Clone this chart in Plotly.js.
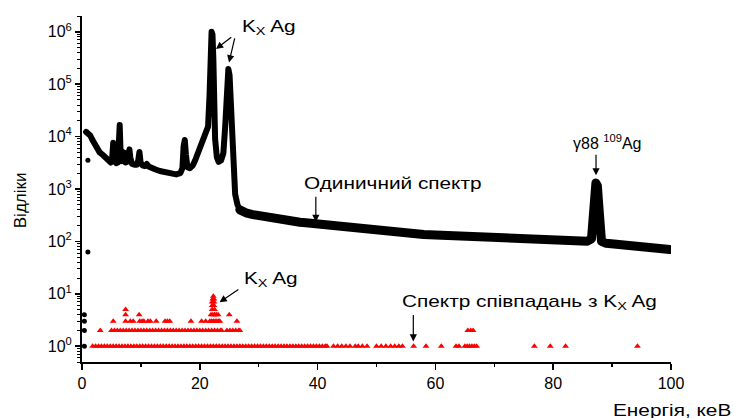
<!DOCTYPE html>
<html>
<head>
<meta charset="utf-8">
<script src="https://cdn.plot.ly/plotly-3.0.1.min.js"></script>
<style>
html,body{margin:0;padding:0;background:#fff;}
#chart{width:734px;height:418px;}
path.js-line{stroke-linejoin:round !important;stroke-linecap:round !important;}
</style>
</head>
<body>
<div id="chart"></div>
<script>
// ---- Single (non-coincidence) spectrum: energy (keV) and counts ----
const singleEnergy = [0.7,1.0,1.4,1.8,2.2,2.6,3.0,3.5,4.0,4.5,4.9,5.1,5.3,5.5,5.8,6.1,6.25,6.4,6.55,6.8,7.1,7.4,7.7,7.9,8.05,8.2,8.5,8.9,9.3,9.55,9.75,9.95,10.3,10.7,11.0,11.3,11.8,12.5,13.2,14.0,15.0,16.0,16.7,17.05,17.25,17.45,17.65,17.9,18.3,18.8,19.2,19.6,20.0,20.5,21.0,21.4,21.65,21.85,22.0,22.15,22.3,22.45,22.6,22.9,23.2,23.6,24.0,24.3,24.6,24.85,25.05,25.25,25.45,25.6,25.75,26.0,26.4,26.8,
  27.3,28,29,30,31,32,33,34,35,36,37,38,39,40,41,42,43,44,45,46,47,48,49,50,52,54,56,58,60,62,64,66,68,70,72,74,76,78,80,82,84,85.8,86.5,86.8,87.0,87.25,87.5,87.7,87.9,88.2,89,90,92,94,96,98,99.8];
const singleCounts = [12300,11800,10500,8500,6800,5600,5000,4500,3900,3400,3200,3600,7600,3500,3100,3200,5000,16600,5000,3400,5000,3200,3300,4500,5700,4000,3000,2900,2900,3500,5100,3200,2800,2750,3000,2700,2500,2350,2200,2100,2000,1900,2000,2500,6500,8600,4500,2600,2500,2800,3500,4600,5200,7800,11000,15500,60000,500000,1000000,900000,300000,40000,9000,4000,3300,3500,4800,15000,100000,195000,150000,45000,35000,8000,1500,800,500,400,
  370,345,325,308,298,288,278,266,254,243,232,228,222,215,207,200,193,187,182,176,171,166,161,156,149,143,139,136,133,130,127,124,121,118,116,113,111,109,107,105,103,101,112,230,700,1300,1150,550,190,100,92,90,86,82,78,74,70];
// index where the steep part ends and the noisy continuum begins
const continuumStart = 78;

// stray single-spectrum points near 0 keV
const strayEnergy = [1.0,1.0,0.4,0.4,0.4,0.4];
const strayCounts = [3550,63,1,2,3,4];

// ---- Coincidence spectrum with Kx Ag: energies (keV) of channels per count level ----
const coinc1 = [1.8,2.3,2.8,3.3,3.8,4.3,4.8,5.3,5.8,6.3,6.8,7.3,7.8,8.3,8.8,9.3,9.8,10.3,10.8,11.3,11.8,12.3,12.8,13.3,13.8,14.3,14.8,15.3,15.8,16.3,16.8,17.3,17.8,18.3,18.8,19.3,19.8,20.3,20.8,21.3,21.8,22.3,22.8,23.3,23.8,24.3,24.8,25.3,25.8,26.3,26.8,27.3,27.8,28.3,28.8,29.3,29.8,30.3,30.8,31.3,31.8,32.3,32.8,33.3,33.8,34.3,34.8,35.3,35.8,36.3,36.8,37.3,37.8,38.3,38.8,39.3,39.8,40.3,40.8,41.3,41.6,42.7,43.4,44.1,44.8,45.5,46.4,46.9,47.6,48.4,50.0,50.8,51.6,52.4,53.1,53.8,54.4,56.3,58.4,61.0,63.5,64.0,65.0,65.4,65.8,66.2,66.6,67.0,76.8,79.5,82.1,94.3];
const coinc2 = [3.1,5.0,5.5,6.0,6.5,7.0,7.5,8.0,8.5,9.0,9.5,10.0,10.5,11.0,11.5,12.0,12.5,13.0,13.5,14.0,14.5,15.0,15.5,16.0,16.5,17.0,17.5,18.0,18.5,19.0,19.5,20.0,20.5,21.0,21.5,22.0,22.5,23.0,23.5,23.7,24.6,25.1,25.6,26.1,26.6,26.8,65.5,66.0,66.4];
const coinc3 = [5.3,7.4,8.2,8.7,9.8,10.2,10.5,11.2,11.6,12.6,14.1,14.5,14.9,18.5,20.3,21.0,21.7,22.0,22.3,22.6,22.9,23.2,23.4,26.3];
const coinc4 = [7.4,9.7,21.9,22.2,22.5,22.8,23.1,25.0];
const coinc5 = [7.4,22.1,22.5];
const coinc6 = [22.1,22.4];
const coinc7 = [22.1,22.4];
const coinc8 = [22.2,22.4];
const coinc9 = [22.3];
const coincLevels = [coinc1,coinc2,coinc3,coinc4,coinc5,coinc6,coinc7,coinc8,coinc9];

// ---- Axis ticks ----
const xTicks = [0,20,40,60,80,100];
const yTickVals = [1,10,100,1000,10000,100000,1000000];
const yTickText = ['10<sup>0</sup>','10<sup>1</sup>','10<sup>2</sup>','10<sup>3</sup>','10<sup>4</sup>','10<sup>5</sup>','10<sup>6</sup>'];

// build coincidence x/y
const coincX = [], coincY = [];
coincLevels.forEach((arr, i) => { arr.forEach(e => { coincX.push(e); coincY.push(i + 1); }); });

const FONT = 'Liberation Sans, Arial, sans-serif';

const traces = [
  {x: singleEnergy.slice(0, continuumStart), y: singleCounts.slice(0, continuumStart),
   mode: 'lines', line: {color: '#000', width: 6}, hoverinfo: 'skip', showlegend: false},
  {x: singleEnergy.slice(continuumStart - 1), y: singleCounts.slice(continuumStart - 1),
   mode: 'lines', line: {color: '#000', width: 9}, hoverinfo: 'skip', showlegend: false},
  {x: strayEnergy, y: strayCounts, mode: 'markers',
   marker: {color: '#000', size: 5, symbol: 'circle'}, showlegend: false},
  {x: coincX, y: coincY, mode: 'markers',
   marker: {color: '#ff0000', size: 6, symbol: 'triangle-up', line: {width: 0}}, showlegend: false}
];

function arrow(hx, hy, tx, ty) {
  return {x: hx, y: Math.log10(hy), ax: tx, ay: Math.log10(ty), xref: 'x', yref: 'y',
    axref: 'x', ayref: 'y', text: '', showarrow: true, arrowhead: 2, arrowsize: 1.2,
    arrowwidth: 1.2, arrowcolor: '#000', standoff: 0, startstandoff: 0};
}
function label(txt, x, y) {
  return {x: x, y: Math.log10(y), xref: 'x', yref: 'y', text: txt, showarrow: false,
    xanchor: 'left', yanchor: 'middle', font: {family: FONT, size: 16, color: '#000'}};
}

const annotations = [
  label('K<sub>X</sub> Ag', 26.8, 1.2e6),
  arrow(22.75, 4.7e5, 25.6, 8.3e5),
  arrow(24.96, 2.6e5, 25.98, 8.0e5),
  label('K<sub>X</sub> Ag', 27.2, 19),
  arrow(23.35, 6.9, 26.8, 12.6),
  label('Одиничний спектр', 37.3, 1290),
  arrow(39.7, 234, 39.7, 760),
  label('γ88 <sup>109</sup>Ag', 83.1, 7900),
  arrow(87.27, 1820, 87.27, 4800),
  label('Спектр співпадань з K<sub>X</sub> Ag', 54.0, 6.9),
  arrow(56.25, 1.23, 56.25, 4.2),
  {xref: 'paper', yref: 'paper', x: 0.898, y: -0.139, xanchor: 'left', yanchor: 'middle',
   text: 'Енергія, кеВ', showarrow: false, font: {family: FONT, size: 16, color: '#000'}},
  {xref: 'paper', yref: 'paper', x: -0.105, y: 0.468, xanchor: 'center', yanchor: 'middle',
   text: 'Відліки', textangle: -90, showarrow: false, font: {family: FONT, size: 17, color: '#000'}}
];

const layout = {
  width: 734, height: 418,
  margin: {l: 82, r: 63, t: 16, b: 56, pad: 0},
  paper_bgcolor: '#fff', plot_bgcolor: '#fff',
  font: {family: FONT, size: 16, color: '#000'},
  showlegend: false,
  xaxis: {range: [0, 100], tickmode: 'array', tickvals: xTicks, ticks: 'outside', ticklen: 6,
    tickwidth: 1.5, tickcolor: '#000', showline: true, linecolor: '#000', linewidth: 2,
    showgrid: false, zeroline: false, tickfont: {family: FONT, size: 16, color: '#000'},
    minor: {ticks: 'outside', ticklen: 3, tickwidth: 1.5, tickcolor: '#000', dtick: 10, showgrid: false}},
  yaxis: {type: 'log', range: [Math.log10(0.5), Math.log10(2e6)], tickmode: 'array',
    tickvals: yTickVals, ticktext: yTickText, ticks: 'outside', ticklen: 5, tickwidth: 1.5,
    tickcolor: '#000', showline: true, linecolor: '#000', linewidth: 2, showgrid: false,
    zeroline: false, tickfont: {family: FONT, size: 16, color: '#000'},
    minor: {ticks: 'outside', ticklen: 3, tickwidth: 1, tickcolor: '#000', dtick: 'D1', showgrid: false}},
  annotations: annotations
};

Plotly.newPlot('chart', traces, layout, {staticPlot: true, displayModeBar: false}).then(function () {
  // the reference's horizontal labels are drawn wider; stretch them from their left edge
  document.querySelectorAll('g.annotation text.annotation-text').forEach(function (t) {
    const s = t.textContent;
    if (/^(K|Одиничний|Спектр|Енергія)/.test(s)) {
      t.style.transformBox = 'fill-box';
      t.style.transformOrigin = '0% 50%';
      t.style.transform = 'scaleX(1.3)';
    }
  });
});
</script>
</body>
</html>
